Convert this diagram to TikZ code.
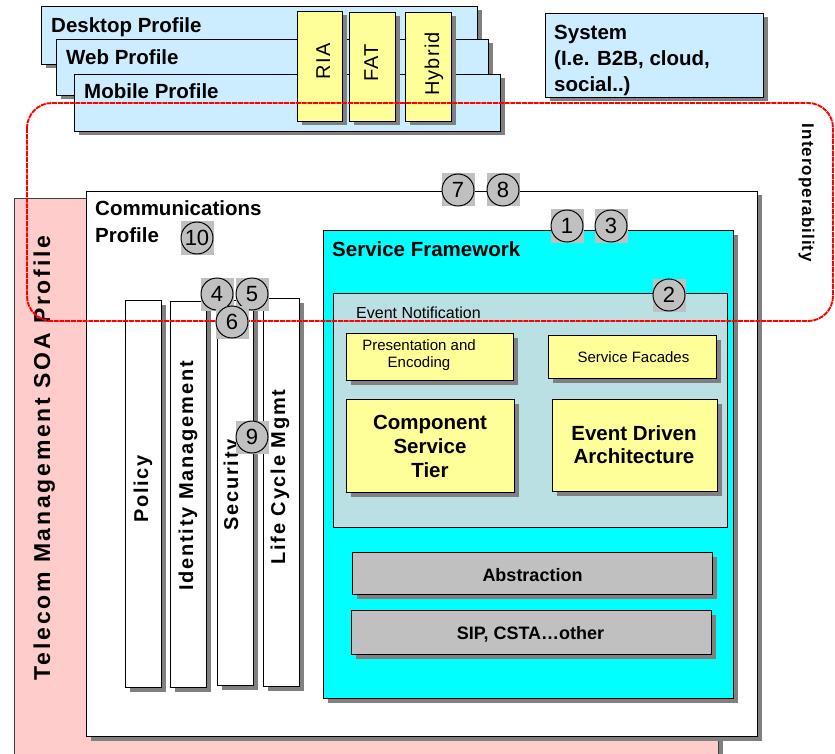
\documentclass[tikz,border=0pt]{standalone}
\usepackage{fontspec}
\setmainfont{Liberation Sans}
\newfontfamily\barfont{Liberation Sans}[LetterSpace=9]
\newfontfamily\telfont{Liberation Sans}[LetterSpace=12]
\newfontfamily\tabfont{Liberation Sans}[LetterSpace=6]
\usetikzlibrary{shadows}

\definecolor{profileblue}{HTML}{CCECFF}
\definecolor{paleyellow}{HTML}{FFFF99}
\definecolor{sfcyan}{HTML}{00FFFF}
\definecolor{eventteal}{HTML}{BBE0E3}
\definecolor{boxgray}{HTML}{C0C0C0}
\definecolor{telpink}{HTML}{FFCCCC}
\definecolor{shade}{HTML}{808080}

\begin{document}
\begin{tikzpicture}[x=1pt, y=-1pt,
  box/.style={draw=black, line width=1pt, inner sep=0pt, anchor=north west,
    general shadow={fill=shade, shadow xshift=4pt, shadow yshift=-4pt}},
  flatbox/.style={draw=black, line width=1pt, inner sep=0pt, anchor=north west},
  bigbold/.style={font=\fontsize{20.5}{24}\selectfont\bfseries, inner sep=0pt},
  midbold/.style={font=\fontsize{18}{22}\selectfont\bfseries, inner sep=0pt},
  small/.style={font=\fontsize{15}{17}\selectfont, inner sep=0pt},
  bartext/.style={font=\fontsize{20}{24}\selectfont\barfont\bfseries, inner sep=0pt, rotate=90, anchor=base},
  tabtext/.style={font=\fontsize{20}{24}\selectfont\tabfont, inner sep=0pt, rotate=90, anchor=base},
  badge/.style={rectangle, fill=boxgray, minimum size=33pt, inner sep=0pt,
    font=\fontsize{22}{22}\selectfont,
    path picture={\draw[line width=1pt] (path picture bounding box.center) circle (16);}},
  interop/.style={draw=red, line width=1.9pt, dash pattern=on 5pt off 0.8pt, rounded corners=25pt}
]
\useasboundingbox (0,0) rectangle (835,754);

% outer profile frame
\node[box, draw=black!75, fill=telpink, minimum width=704pt, minimum height=572pt] (telecom) at (14,198) {};
\node[font=\fontsize{23}{23}\selectfont\telfont\bfseries, inner sep=0pt, rotate=90, anchor=base] (telecomlbl) at (50,458) {Telecom Management SOA Profile};

% communications profile
\node[box, fill=white, minimum width=671pt, minimum height=545pt] (comm) at (86,191) {};
\node[bigbold, align=left, anchor=west, font=\fontsize{20.5}{27}\selectfont\bfseries] (commlbl) at (95,222) {Communications\\Profile};

% vertical capability bars
\node[box, fill=white, minimum width=36pt, minimum height=387pt] (policy) at (125,300) {};
\node[box, fill=white, minimum width=36pt, minimum height=386pt] (identity) at (170,301) {};
\node[box, fill=white, minimum width=36pt, minimum height=385pt] (security) at (217,300) {};
\node[box, fill=white, minimum width=36pt, minimum height=388pt] (lifecycle) at (263,298) {};
\node[bartext] (policylbl) at (148,489) {Policy};
\node[bartext] (identitylbl) at (193,476) {Identity Management};
\node[bartext] (securitylbl) at (238,485) {Security};
\node[bartext] (lifecyclelbl) at (285,477) {Life Cycle Mgmt};

% service framework
\node[box, fill=sfcyan, minimum width=410pt, minimum height=468pt] (sf) at (323,230) {};
\node[bigbold, anchor=base west] (sflbl) at (332,256) {Service Framework};

\node[flatbox, fill=eventteal, minimum width=394pt, minimum height=234pt] (event) at (333,293) {};
\node[font=\fontsize{16}{16}\selectfont, inner sep=0pt, anchor=base west] (eventlbl) at (356,318) {Event Notification};

\node[box, fill=paleyellow, minimum width=167pt, minimum height=47pt] (pres) at (346,333) {};
\node[small, align=center] (preslbl) at (419,355) {Presentation and\\Encoding};
\node[box, fill=paleyellow, minimum width=168pt, minimum height=43pt] (facades) at (548,335) {};
\node[small, anchor=base] (facadeslbl) at (633.5,362) {Service Facades};
\node[box, fill=paleyellow, minimum width=168pt, minimum height=93pt] (cst) at (346,399) {};
\node[bigbold, align=center] (cstlbl) at (430,446.5) {Component\\Service\\Tier};
\node[box, fill=paleyellow, minimum width=165pt, minimum height=92pt] (eda) at (552,399) {};
\node[bigbold, align=center, font=\fontsize{20.5}{23}\selectfont\bfseries] (edalbl) at (634,445) {Event Driven\\Architecture};

\node[box, fill=boxgray, minimum width=360pt, minimum height=42pt] (abstr) at (352,552) {};
\node[midbold, anchor=base] (abstrlbl) at (532.5,581) {Abstraction};
\node[box, fill=boxgray, minimum width=360pt, minimum height=44pt] (sip) at (351,610) {};
\node[midbold, anchor=base] (siplbl) at (530.5,639) {SIP, CSTA…other};

% client profiles
\node[box, fill=profileblue, minimum width=436pt, minimum height=58pt] (desktop) at (41,6) {};
\node[bigbold, anchor=base west] (desktoplbl) at (51,33) {Desktop Profile};
\node[box, fill=profileblue, minimum width=432pt, minimum height=56pt] (web) at (56,39) {};
\node[bigbold, anchor=base west] (weblbl) at (66,65) {Web Profile};
\node[box, fill=profileblue, minimum width=426pt, minimum height=57pt] (mobile) at (74,74) {};
\node[bigbold, anchor=base west] (mobilelbl) at (84,99) {Mobile Profile};

\node[box, fill=paleyellow, minimum width=45pt, minimum height=110pt] (ria) at (297,11) {};
\node[tabtext] (rialbl) at (330,61.5) {RIA};
\node[box, fill=paleyellow, minimum width=46pt, minimum height=109pt] (fat) at (349,12) {};
\node[tabtext] (fatlbl) at (378,63) {FAT};
\node[box, fill=paleyellow, minimum width=46pt, minimum height=109pt] (hybrid) at (405,12) {};
\node[tabtext] (hybridlbl) at (439,64) {Hybrid};

\node[box, fill=profileblue, minimum width=218pt, minimum height=84pt] (system) at (545,13) {};
\node[bigbold, align=left, anchor=west, font=\fontsize{20.5}{26}\selectfont\bfseries] (systemlbl) at (554,60.5) {System\\(I.e. B2B, cloud,\\social..)};

% interoperability boundary
\draw[interop] (27,103) rectangle (833,321);
\node[font=\fontsize{17}{17}\selectfont\tabfont\bfseries, inner sep=0pt, rotate=-90, anchor=base] (interoplbl) at (802,193) {Interoperability};

% numbered markers
\node[badge] (m7) at (458,190) {7};
\node[badge] (m8) at (503,190) {8};
\node[badge] (m1) at (567,226) {1};
\node[badge] (m3) at (611,226) {3};
\node[badge] (m2) at (669,295) {2};
\node[badge] (m10) at (197,238) {10};
\node[badge] (m4) at (217,294) {4};
\node[badge] (m5) at (252,294) {5};
\node[badge] (m6) at (232,322) {6};
\node[badge] (m9) at (252,437) {9};
\end{tikzpicture}
\end{document}
